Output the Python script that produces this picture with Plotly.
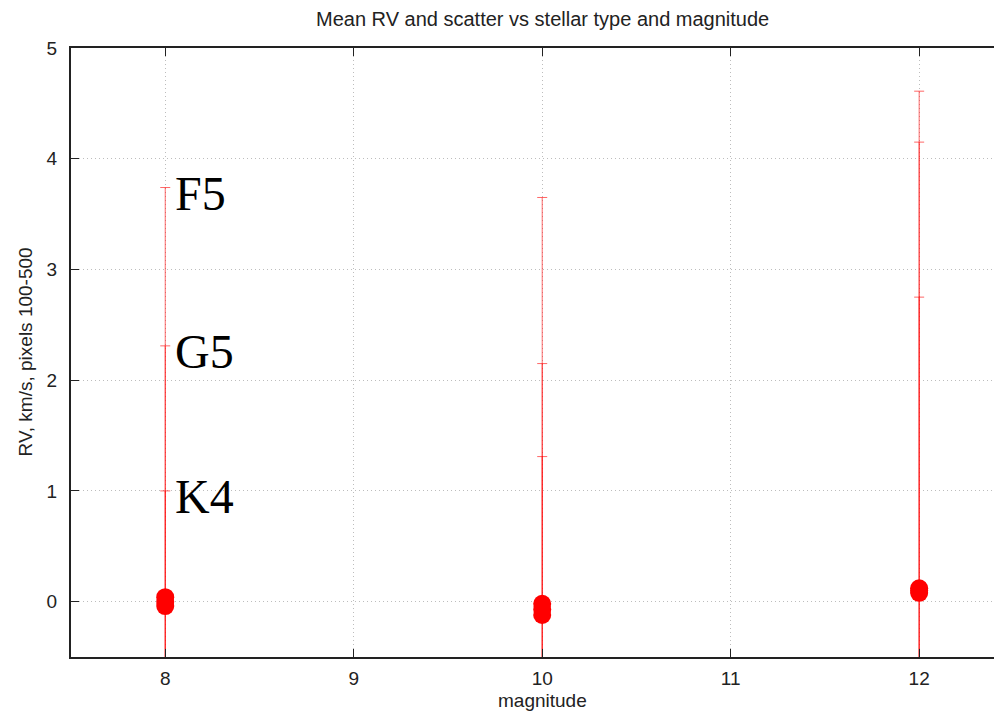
import plotly.graph_objects as go

magnitudes = [8, 10, 12]
types = ["F5", "G5", "K4"]
mean_rv = {
    "F5": [0.04, -0.02, 0.12],
    "G5": [0.00, -0.07, 0.10],
    "K4": [-0.04, -0.12, 0.08],
}
scatter_rv = {
    "F5": [3.70, 3.67, 4.49],
    "G5": [2.31, 2.22, 4.05],
    "K4": [1.04, 1.43, 2.67],
}
title_text = "Mean RV and scatter vs stellar type and magnitude"
x_title = "magnitude"
y_title = "RV, km/s, pixels 100-500"

fig = go.Figure()
for t in types:
    fig.add_trace(go.Scatter(
        x=magnitudes, y=mean_rv[t], mode="markers", name=t,
        marker=dict(color="#ff0000", size=18, line=dict(width=0)),
        error_y=dict(type="data", array=scatter_rv[t], symmetric=True,
                     color="rgba(255,0,0,0.6)", thickness=1, width=5),
        cliponaxis=True, showlegend=False,
    ))

for t in types:
    fig.add_annotation(
        x=magnitudes[0], y=mean_rv[t][0] + scatter_rv[t][0], text=t,
        xref="x", yref="y", xanchor="left", yanchor="middle",
        xshift=8, yshift=-6, showarrow=False,
        font=dict(family="Liberation Serif", size=48, color="black"),
    )

txt_font = dict(family="Liberation Sans", size=19, color="#222222")
title_font = dict(family="Liberation Sans", size=20, color="#222222")

fig.add_annotation(text=title_text, xref="x", x=10, yref="paper", y=1,
                   yshift=29, xanchor="center", yanchor="middle",
                   showarrow=False, font=title_font)
fig.add_annotation(text=x_title, xref="x", x=10, yref="paper", y=0,
                   yshift=-43, xanchor="center", yanchor="middle",
                   showarrow=False, font=txt_font)
fig.add_annotation(text=y_title, xref="paper", x=0, xshift=-46, yref="y", y=2.25,
                   xanchor="center", yanchor="middle", textangle=-90,
                   showarrow=False, font=txt_font)

grid = dict(showgrid=True, gridcolor="#bdbdbd", griddash="1px,3px", gridwidth=1)
fig.update_layout(
    width=986, height=703,
    margin=dict(l=63, r=0, t=40, b=54, autoexpand=False),
    paper_bgcolor="white", plot_bgcolor="white",
    xaxis=dict(range=[7.5, 12.397], tickvals=[8, 9, 10, 11, 12], automargin=False,
               showline=True, linecolor="#222222", linewidth=2, mirror="ticks",
               ticks="inside", ticklen=8, tickcolor="#222222",
               tickfont=txt_font, zeroline=False, ticklabelstandoff=3, **grid),
    yaxis=dict(range=[-0.5, 5], tickvals=[0, 1, 2, 3, 4, 5], automargin=False,
               showline=True, linecolor="#222222", linewidth=2,
               ticks="inside", ticklen=8, tickcolor="#222222",
               tickfont=txt_font, zeroline=False, ticklabelstandoff=8, **grid),
)

fig.write_html("out.html")
